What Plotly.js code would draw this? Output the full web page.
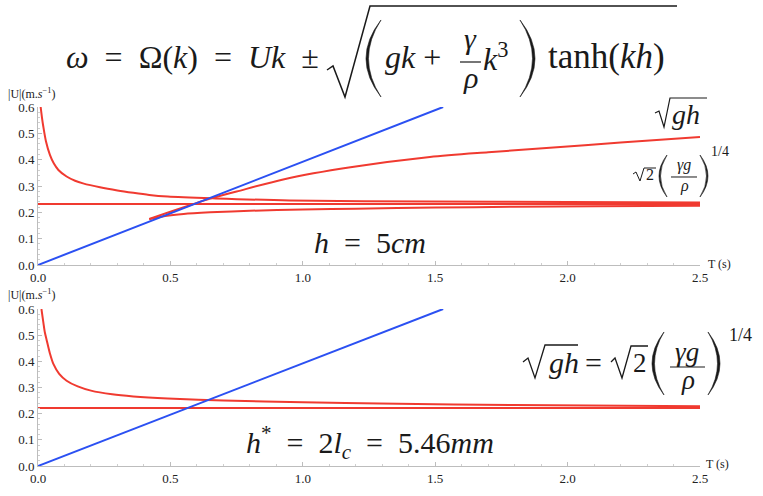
<!DOCTYPE html>
<html>
<head>
<meta charset="utf-8">
<script src="https://cdn.plot.ly/plotly-3.0.1.min.js"></script>
<style>
  html, body { margin: 0; padding: 0; background: #fff; }
  #plot { width: 763px; height: 496px; }
</style>
</head>
<body>
<div id="plot"></div>
<script>
// valeurs (T en s, |U| en m/s)
const blueT = [0, 1.53];
const blueU = [0, 0.6];

// h = 5 cm
const topDecayT = [0.01, 0.015, 0.02, 0.03, 0.045, 0.06, 0.077, 0.108, 0.14, 0.17, 0.234, 0.3, 0.36, 0.42, 0.49, 0.67, 0.95, 1.48, 2.0, 2.5];
const topDecayU = [0.6, 0.56, 0.526, 0.47, 0.418, 0.385, 0.361, 0.336, 0.32, 0.31, 0.295, 0.283, 0.274, 0.266, 0.26, 0.253, 0.245, 0.241, 0.239, 0.237];
const topFlatT = [0, 2.5];
const topFlatU = [0.232, 0.232];
const topUpperT = [0.42, 0.5, 0.6, 0.65, 0.75, 0.93, 1.18, 1.48, 1.7, 1.92, 2.2, 2.5];
const topUpperU = [0.175, 0.202, 0.236, 0.252, 0.279, 0.326, 0.371, 0.41, 0.428, 0.444, 0.465, 0.486];
const topLowerT = [0.42, 0.48, 0.55, 0.65, 0.8, 1.0, 1.2, 1.5, 1.8, 2.1, 2.5];
const topLowerU = [0.174, 0.186, 0.194, 0.2, 0.206, 0.211, 0.214, 0.218, 0.221, 0.223, 0.225];

// h* = 5.46 mm
const botDecayT = [0.013, 0.02, 0.026, 0.033, 0.045, 0.058, 0.08, 0.108, 0.15, 0.2, 0.28, 0.36, 0.49, 0.7, 1.0, 1.29, 1.8, 2.5];
const botDecayU = [0.6, 0.55, 0.51, 0.48, 0.43, 0.39, 0.352, 0.326, 0.304, 0.288, 0.274, 0.266, 0.258, 0.25, 0.244, 0.239, 0.233, 0.228];
const botFlatT = [0, 2.5];
const botFlatU = [0.222, 0.222];

const xTickVals = [0, 0.5, 1, 1.5, 2, 2.5];
const xTickText = ["0.0", "0.5", "1.0", "1.5", "2.0", "2.5"];
const yTickVals = [0, 0.1, 0.2, 0.3, 0.4, 0.5, 0.6];
const yTickText = ["0.0", "0.1", "0.2", "0.3", "0.4", "0.5", "0.6"];

const RED = "#f03a30";
const BLUE = "#2b50f2";
const INK = "#1a1a1a";
const SERIF = "'Liberation Serif', 'DejaVu Serif', serif";
const W = 763, H = 496;
const SP = "\u2002"; // espace large autour des signes

// pixels -> coordonnées paper
const px = x => x / W;
const py = y => 1 - y / H;
const pt = (x, y) => px(x).toFixed(5) + "," + py(y).toFixed(5);

function line(x, y, color, xa, ya) {
  return {
    x: x, y: y, xaxis: xa, yaxis: ya, type: "scatter", mode: "lines",
    line: { color: color, width: 2, shape: "spline", smoothing: 0.8 },
    hoverinfo: "skip"
  };
}

const data = [
  line(topFlatT, topFlatU, RED, "x", "y"),
  line(topDecayT, topDecayU, RED, "x", "y"),
  line(topUpperT, topUpperU, RED, "x", "y"),
  line(topLowerT, topLowerU, RED, "x", "y"),
  line(blueT, blueU, BLUE, "x", "y"),
  line(botFlatT, botFlatU, RED, "x2", "y2"),
  line(botDecayT, botDecayU, RED, "x2", "y2"),
  line(blueT, blueU, BLUE, "x2", "y2")
];

function xaxis(dom, anchor) {
  return {
    domain: dom, anchor: anchor, range: [0, 2.5],
    showgrid: false, zeroline: false, showline: true,
    linecolor: "#bdbdbd", linewidth: 1,
    ticks: "inside", ticklen: 4, tickcolor: "#bdbdbd",
    tickvals: xTickVals, ticktext: xTickText,
    minor: { dtick: 0.1, ticks: "inside", ticklen: 2, tickcolor: "#cfcfcf" },
    tickfont: { family: SERIF, size: 13, color: "#222" }
  };
}
function yaxis(dom, anchor) {
  return {
    domain: dom, anchor: anchor, range: [0, 0.6],
    showgrid: false, zeroline: false, showline: true,
    linecolor: "#bdbdbd", linewidth: 1,
    ticks: "inside", ticklen: 4, tickcolor: "#bdbdbd",
    tickvals: yTickVals, ticktext: yTickText,
    minor: { dtick: 0.02, ticks: "inside", ticklen: 2, tickcolor: "#cfcfcf" },
    tickfont: { family: SERIF, size: 13, color: "#222" }
  };
}

function ann(x, y, text, size, anchor) {
  return {
    xref: "paper", yref: "paper", x: px(x), y: py(y), text: text,
    showarrow: false, xanchor: anchor || "left", yanchor: "middle",
    font: { family: SERIF, size: size, color: INK }
  };
}

// traits des formules (radicaux, barres de fraction, parenthèses)
function stroke(pts, w) {
  return {
    type: "path", xref: "paper", yref: "paper",
    path: "M" + pts.map(p => pt(p[0], p[1])).join(" L"),
    line: { color: INK, width: w || 1.2 }
  };
}
function paren(x0, yt, yb, ctrl, inner) {
  const ym = (yt + yb) / 2;
  return {
    type: "path", xref: "paper", yref: "paper",
    path: "M" + pt(x0, yt) + " Q" + pt(ctrl, ym) + " " + pt(x0, yb) +
          " Q" + pt(inner, ym) + " " + pt(x0, yt) + " Z",
    fillcolor: INK, line: { color: INK, width: 0.6 }
  };
}

const shapes = [
  // grande formule
  stroke([[327, 70], [333, 66], [345, 97], [370, 6], [677, 6]], 1.5),
  paren(381, 20, 97, 351, 356),
  paren(520, 20, 97, 550, 545),
  stroke([[460, 62], [481, 62]], 1.2),
  // sqrt(gh) haut
  stroke([[655, 113], [659, 111], [664, 127], [670, 98], [707, 98]], 1.2),
  // sqrt2 (γg/ρ)^(1/4) haut
  stroke([[633, 174], [636, 172], [640, 181], [644, 168], [656, 168]], 1),
  paren(667, 155, 197, 651, 654),
  paren(700, 155, 197, 716, 713),
  stroke([[671, 177], [697, 177]], 1),
  // formule du bas
  stroke([[523, 362], [528, 358], [535, 378], [545, 345], [578, 345]], 1.3),
  stroke([[611, 362], [615, 358], [622, 378], [631, 346], [648, 346]], 1.3),
  paren(664, 332, 395, 640, 645),
  paren(708, 332, 395, 732, 727),
  stroke([[670, 367], [705, 367]], 1.2)
];

const annotations = [
  ann(64, 57, "<i>ω</i>" + SP + "=" + SP + "Ω(<i>k</i>)" + SP + "=" + SP + "<i>Uk</i>" + SP + "±", 32),
  ann(383, 57, "<i>gk</i> +", 32),
  ann(470, 38, "<i>γ</i>", 30, "center"),
  ann(470, 77, "<i>ρ</i>", 30, "center"),
  ann(481, 57, "<i>k</i><sup>3</sup>", 32),
  ann(546, 57, "tanh(<i>kh</i>)", 35),

  ann(670, 114, "<i>gh</i>", 28),
  ann(650, 175, "2", 16, "center"),
  ann(684, 165, "<i>γg</i>", 16, "center"),
  ann(684, 186, "<i>ρ</i>", 16, "center"),
  ann(709, 152, "1/4", 14),
  ann(312, 242, "<i>h</i>" + SP + "=" + SP + "5<i>cm</i>", 30),

  ann(547, 362, "<i>gh</i>", 30),
  ann(593, 362, "=", 30, "center"),
  ann(640, 363, "2", 27, "center"),
  ann(687, 352, "<i>γg</i>", 27, "center"),
  ann(688, 380, "<i>ρ</i>", 27, "center"),
  ann(727, 335, "1/4", 18),
  ann(244, 442, "<i>h</i><sup>*</sup>" + SP + "=" + SP + "2<i>l</i><sub><i>c</i></sub>" + SP + "=" + SP + "5.46<i>mm</i>", 30),

  ann(6, 93, "|U|(m.<i>s</i><sup>−1</sup>)", 12),
  ann(6, 294, "|U|(m.<i>s</i><sup>−1</sup>)", 12),
  ann(706, 264, "T (s)", 12),
  ann(704, 464, "T (s)", 12)
];

const layout = {
  width: W, height: H,
  margin: { l: 0, r: 0, t: 0, b: 0 },
  font: { family: SERIF },
  paper_bgcolor: "#fff", plot_bgcolor: "#fff",
  showlegend: false,
  xaxis: xaxis([38 / W, 700 / W], "y"),
  yaxis: yaxis([1 - 265 / H, 1 - 107 / H], "x"),
  xaxis2: xaxis([38 / W, 700 / W], "y2"),
  yaxis2: yaxis([1 - 466 / H, 1 - 309 / H], "x2"),
  shapes: shapes,
  annotations: annotations
};

Plotly.newPlot("plot", data, layout, { displayModeBar: false, staticPlot: true });
</script>
</body>
</html>
